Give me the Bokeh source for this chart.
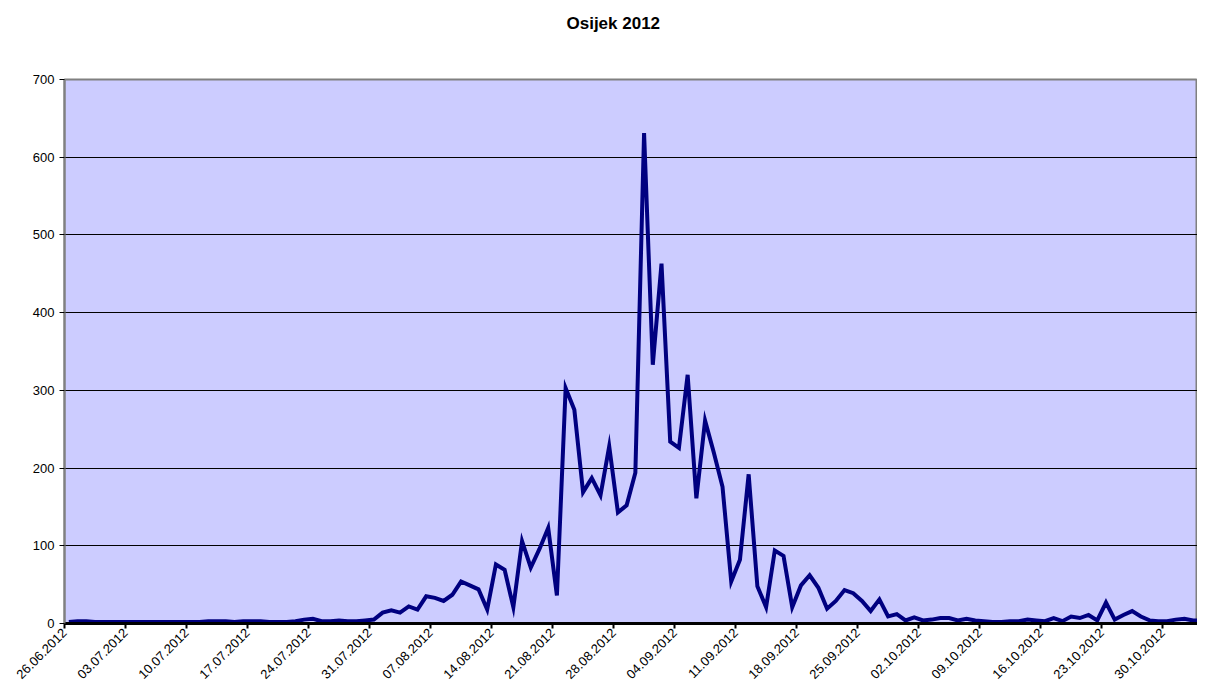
from math import pi
from bokeh.plotting import figure
from bokeh.models import FixedTicker, Range1d, ColumnDataSource, Title
from bokeh.embed import file_html
from bokeh.resources import INLINE

# Daily values, 26.06.2012 .. 03.11.2012 (131 days)
values = [
    2, 3, 3, 2, 2, 2, 2, 2, 2, 2,
    2, 2, 2, 2, 2, 2, 3, 3, 3, 2,
    3, 3, 3, 2, 2, 2, 3, 5, 6, 3,
    3, 4, 3, 3, 4, 5, 14, 17, 14, 22,
    18, 35, 33, 29, 37, 54, 49, 44, 18, 76,
    69, 21, 106, 72, 96, 123, 36, 303, 275, 169,
    187, 165, 228, 143, 152, 194, 631, 333, 463, 234,
    226, 320, 161, 261, 220, 176, 54, 82, 192, 48,
    21, 94, 87, 21, 49, 62, 46, 19, 29, 43,
    39, 29, 16, 31, 9, 12, 4, 8, 4, 5,
    7, 7, 4, 6, 4, 3, 2, 2, 3, 3,
    5, 4, 3, 7, 3, 9, 7, 11, 4, 27,
    5, 11, 16, 9, 4, 3, 3, 5, 6, 4,
    4,
]

tick_labels = [
    "26.06.2012", "03.07.2012", "10.07.2012", "17.07.2012", "24.07.2012",
    "31.07.2012", "07.08.2012", "14.08.2012", "21.08.2012", "28.08.2012",
    "04.09.2012", "11.09.2012", "18.09.2012", "25.09.2012", "02.10.2012",
    "09.10.2012", "16.10.2012", "23.10.2012", "30.10.2012",
]
y_ticks = [0, 100, 200, 300, 400, 500, 600, 700]
title_text = "Osijek 2012"

days = list(range(len(values)))
xs = [d + 0.5 for d in days]
source = ColumnDataSource(data=dict(x=xs, y=values))

FONT = "Liberation Sans"

p = figure(
    width=1197, height=685,
    output_backend="svg", toolbar_location=None, tools="",
    x_range=Range1d(0, 130.0), y_range=Range1d(0, 700),
    min_border_left=64, min_border_right=0, min_border_top=79, min_border_bottom=61,
    background_fill_color="#CCCCFF", border_fill_color="white",
)

p.title.text = title_text
p.title.align = "left"
p.title.offset = 502
p.title.standoff = 0
p.title.text_font = FONT
p.title.text_font_size = "17px"
p.title.text_font_style = "bold"
p.title.text_color = "black"

# empty spacer between the title and the plot area
p.add_layout(Title(text=" ", text_font_size="10px", standoff=34), "above")

p.outline_line_color = "#808080"
p.outline_line_width = 2

p.line("x", "y", source=source, line_color="#000080", line_width=4, line_join="miter")

tick_pos = [7 * k for k in range(len(tick_labels))]
p.xaxis.ticker = FixedTicker(ticks=tick_pos)
p.xaxis.major_label_overrides = {t: lab for t, lab in zip(tick_pos, tick_labels)}
p.xaxis.major_label_orientation = pi / 4
p.xaxis.major_label_text_font = FONT
p.xaxis.major_label_text_font_size = "13px"
p.xaxis.major_label_text_color = "black"
p.xaxis.major_label_standoff = 2
p.xaxis.axis_line_color = "black"
p.xaxis.axis_line_width = 3
p.xaxis.major_tick_line_color = "black"
p.xaxis.major_tick_line_width = 2
p.xaxis.major_tick_out = 5
p.xaxis.major_tick_in = 0
p.xaxis.minor_tick_line_color = None

p.yaxis.ticker = FixedTicker(ticks=y_ticks)
p.yaxis.major_label_text_font = FONT
p.yaxis.major_label_text_font_size = "13px"
p.yaxis.major_label_text_color = "black"
p.yaxis.major_label_standoff = 5
p.yaxis.axis_line_color = "#808080"
p.yaxis.axis_line_width = 2
p.yaxis.major_tick_line_color = "black"
p.yaxis.major_tick_out = 5
p.yaxis.major_tick_in = 0
p.yaxis.minor_tick_line_color = None

p.xgrid.grid_line_color = None
p.ygrid.grid_line_color = "black"
p.ygrid.grid_line_width = 1

open("out.html", "w").write(file_html(p, INLINE))
